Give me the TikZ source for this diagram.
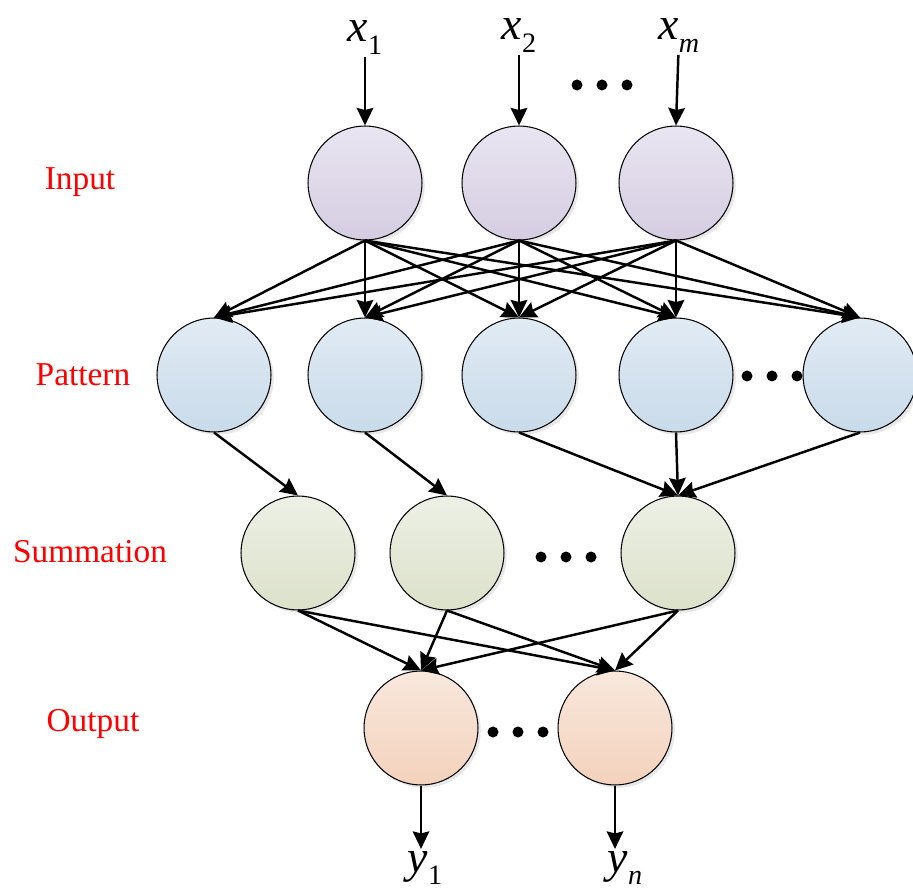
\documentclass[tikz,border=0pt]{standalone}
\usepackage{fontspec}
\setmainfont{Liberation Serif}
\usepackage{tikz}
\usetikzlibrary{arrows.meta,positioning,shadows}
\definecolor{inTop}{HTML}{E9E5F1}
\definecolor{inBot}{HTML}{D5CCE1}
\definecolor{patTop}{HTML}{E1EBF4}
\definecolor{patBot}{HTML}{C9DBEA}
\definecolor{sumTop}{HTML}{EDF0E5}
\definecolor{sumBot}{HTML}{DCE1CA}
\definecolor{outTop}{HTML}{F9E8DD}
\definecolor{outBot}{HTML}{F3D2BC}
\tikzset{
  >={Stealth[length=3.5mm,width=3.3mm,inset=0.4mm]},
  neuron/.style={circle,draw=black,line width=0.6pt,minimum size=2.28cm,inner sep=0pt,
    drop shadow={opacity=0.18,shadow xshift=1.6pt,shadow yshift=-1.6pt}},
  inn/.style={neuron,top color=inTop,bottom color=inBot},
  patn/.style={neuron,top color=patTop,bottom color=patBot},
  sumn/.style={neuron,top color=sumTop,bottom color=sumBot},
  outn/.style={neuron,top color=outTop,bottom color=outBot},
  conn/.style={->,line width=1.4pt},
  layer/.style={font=\fontsize{19}{21}\selectfont,text=red},
  var/.style={font=\fontsize{26}{26}\selectfont\itshape,inner sep=1pt,anchor=base},
}
\newcommand{\lowsub}[1]{\raisebox{-0.28em}{\fontsize{16}{16}\selectfont #1}}

\begin{document}
\begin{tikzpicture}[x=0.02cm,y=-0.02cm]
  \useasboundingbox (0,0) rectangle (913,888);
  % layer names
  \node[layer] (lin) at (80,182) {Input};
  \node[layer] (lpat) at (83,375) {Pattern};
  \node[layer] (lsum) at (90,552) {Summation};
  \node[layer] (lout) at (93,724) {Output};
  % neurons
  \foreach \n/\x in {1/365,2/519,3/676} \node[inn] (i\n) at (\x,183) {};
  \foreach \n/\x in {1/214,2/365,3/519,4/676,5/860} \node[patn] (p\n) at (\x,375) {};
  \foreach \n/\x in {1/298,2/447,3/678} \node[sumn] (s\n) at (\x,553) {};
  \foreach \n/\x in {1/421,2/615} \node[outn] (o\n) at (\x,728) {};
  % inputs and outputs
  \node[var] (x1) at (365,42) {x\/\lowsub{\upshape 1}};
  \node[var] (x2) at (519,40) {x\/\lowsub{\upshape 2}};
  \node[var] (xm) at (679,40) {x\/\lowsub{m}};
  \node[var] (y1) at (425,872) {y\/\lowsub{\upshape 1}};
  \node[var] (yn) at (625,872) {y\/\lowsub{n}};
  \foreach \n/\v in {1/x1,2/x2,3/xm} \draw[conn] (\v) -- (i\n.north);
  \draw[conn] (o1.south) -- (y1.north -| o1.south);
  \draw[conn] (o2.south) -- (yn.north -| o2.south);
  % connections
  \foreach \a in {1,2,3}
    \foreach \b in {1,...,5}
      \draw[conn] (i\a.south) -- (p\b.north);
  \foreach \a/\b in {1/1,2/2,3/3,4/3,5/3} \draw[conn] (p\a.south) -- (s\b.north);
  \foreach \a in {1,2,3}
    \foreach \b in {1,2}
      \draw[conn] (s\a.south) -- (o\b.north);
  % dots
  \foreach \cx/\cy in {602/85,772/376,566/557,518/732}
    \foreach \d in {-25,0,25}
      \fill (\cx+\d,\cy) circle (5.5);
\end{tikzpicture}
\end{document}
